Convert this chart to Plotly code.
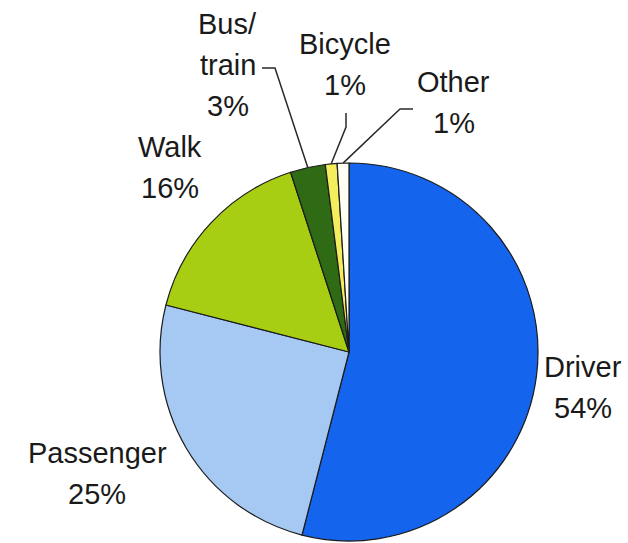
import plotly.graph_objects as go
import math

# Travel mode shares (percent), clockwise from 12 o'clock
modes = ["Driver", "Passenger", "Walk", "Bus/<br>train", "Bicycle", "Other"]
shares = [54, 25, 16, 3, 1, 1]
colors = ["#1464EE", "#A6C9F3", "#A8CE14", "#2F6A14", "#F4EE5E", "#FFFFF4"]

W, H = 628, 543

# pie placement in pixels
PIE_LEFT, PIE_RIGHT = 160, 538
PIE_TOP, PIE_BOTTOM = 163, 541
cx = (PIE_LEFT + PIE_RIGHT) / 2
cy = (PIE_TOP + PIE_BOTTOM) / 2
radius = (PIE_RIGHT - PIE_LEFT) / 2

# label block: (center x, first baseline y) in pixels
label_pos = {
    "Driver": (583, 378),
    "Passenger": (97, 464),
    "Walk": (170, 158),
    "Bus/<br>train": (228, 35),
    "Bicycle": (345, 55),
    "Other": (454, 93),
}
LINE_STEP = 41
FONT_SIZE = 29

# elbow leader lines for the small slices: (start point, bend point)
leaders = {
    "Bus/<br>train": ((262, 68), (275, 68)),
    "Bicycle": ((346, 113), (346, 127)),
    "Other": ((413, 109), (400, 109)),
}


def px(x):
    return x / W


def py(y):
    return 1 - y / H


fig = go.Figure(
    go.Pie(
        labels=[m.replace("<br>", "") for m in modes],
        values=shares,
        sort=False,
        direction="clockwise",
        rotation=0,
        marker=dict(colors=colors, line=dict(color="#1c1c1c", width=1.2)),
        textinfo="none",
        hoverinfo="skip",
        showlegend=False,
        domain=dict(x=[px(PIE_LEFT), px(PIE_RIGHT)], y=[py(PIE_BOTTOM), py(PIE_TOP)]),
    )
)

annotations = []
shapes = []
total = sum(shares)
cum = 0
for name, val in zip(modes, shares):
    mid = (cum + val / 2) / total * 2 * math.pi
    cum += val
    lines = name.split("<br>") + [f"{val}%"]
    lx, base = label_pos[name]
    for i, t in enumerate(lines):
        b = base + i * LINE_STEP
        annotations.append(
            dict(
                x=px(lx), y=py(b + 7), xref="paper", yref="paper",
                text=t, showarrow=False, xanchor="center", yanchor="bottom",
                font=dict(family="Liberation Sans, Arial, sans-serif",
                          size=FONT_SIZE, color="#1a1a1a"),
            )
        )
    if name in leaders:
        (x0, y0), (x1, y1) = leaders[name]
        ex = cx + radius * math.sin(mid)
        ey = cy - radius * math.cos(mid)
        path = (f"M {px(x0)} {py(y0)} L {px(x1)} {py(y1)} "
                f"L {px(ex)} {py(ey)}")
        shapes.append(
            dict(type="path", xref="paper", yref="paper", path=path,
                 line=dict(color="#2a2a2a", width=1.5))
        )

fig.update_layout(
    width=W, height=H, autosize=False,
    margin=dict(l=0, r=0, t=0, b=0),
    paper_bgcolor="white", plot_bgcolor="white",
    annotations=annotations, shapes=shapes,
)

fig.write_html("out.html")
